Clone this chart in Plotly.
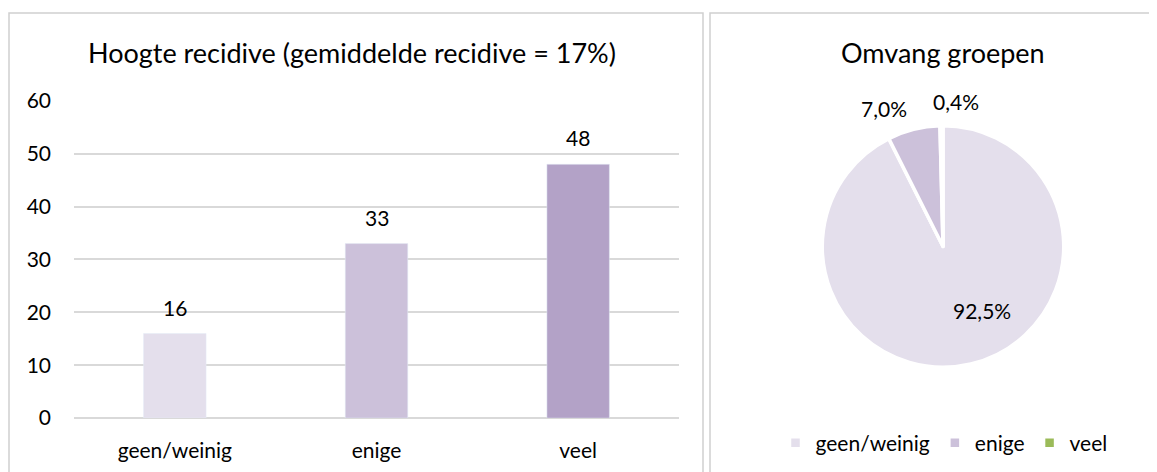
import plotly.graph_objects as go

# Data
categories = ["geen/weinig", "enige", "veel"]
recidive = [16, 33, 48]
omvang = [92.5, 7.0, 0.4]

bar_colors = ["#e4dfec", "#ccc1da", "#b3a2c7"]
pie_colors = ["#e4dfec", "#ccc1da", "#9bbb59"]

W, H = 1157, 472
font_family = "Lato, 'Open Sans', sans-serif"

# where the paper ends up in the screenshot (measured from earlier runs)
X0, Y0, PH = 8, 21, 448


def px(x):
    return (x - X0) / W


def py(y):
    return 1 - (y - Y0) / PH


fig = go.Figure()

fig.add_trace(go.Bar(
    x=categories, y=recidive,
    marker_color=bar_colors, width=0.31,
    showlegend=False, hoverinfo="x+y",
))

# data labels above the bars
for cat, val in zip(categories, recidive):
    fig.add_annotation(x=cat, y=val, text=str(val), showarrow=False,
                       yanchor="bottom", yshift=12,
                       font=dict(size=21, color="#000000"))

fig.add_trace(go.Pie(
    labels=categories, values=omvang,
    marker=dict(colors=pie_colors, line=dict(color="white", width=3.5)),
    sort=False, direction="clockwise", rotation=0,
    textinfo="none",
    domain=dict(x=[px(822), px(1064)], y=[py(367), py(125)]),
    hoverinfo="label+value",
))

# pie labels (placed like the Excel original)
pie_label_pos = [(982, 310), (884, 108), (956, 101)]
for val, (lx, ly) in zip(omvang, pie_label_pos):
    fig.add_annotation(x=px(lx), y=py(ly), xref="paper", yref="paper",
                       text=f"{val:.1f}%".replace(".", ","),
                       showarrow=False, xanchor="center", yanchor="middle",
                       font=dict(size=21, color="#000000"))

# panel borders
for x0, x1 in [(9, 703), (710, 1156)]:
    fig.add_shape(type="rect", xref="paper", yref="paper",
                  x0=px(x0), x1=px(x1), y0=py(490), y1=py(12),
                  line=dict(color="#d0d0d0", width=1.5), layer="below")

fig.add_annotation(text="Hoogte recidive (gemiddelde recidive = 17%)",
                   x=px(352), y=py(52), xref="paper", yref="paper",
                   xanchor="center", yanchor="middle",
                   showarrow=False, font=dict(size=27, color="#000000"))
fig.add_annotation(text="Omvang groepen",
                   x=px(943), y=py(52), xref="paper", yref="paper",
                   xanchor="center", yanchor="middle",
                   showarrow=False, font=dict(size=27, color="#000000"))

fig.update_layout(
    width=W, height=H,
    margin=dict(l=0, r=0, t=0, b=0),
    paper_bgcolor="white", plot_bgcolor="white",
    font=dict(family=font_family, size=21, color="#000000"),
    xaxis=dict(domain=[px(74), px(679)], showgrid=False, showline=False,
               ticks="", ticklabelstandoff=18, tickfont=dict(size=21),
               fixedrange=True),
    yaxis=dict(domain=[py(418), py(100)], range=[0, 60], dtick=10,
               showgrid=True, gridcolor="#d9d9d9", gridwidth=1.5,
               zeroline=True, zerolinecolor="#d9d9d9", zerolinewidth=1.5,
               showline=False, ticks="", ticklabelstandoff=22,
               tickfont=dict(size=21), fixedrange=True),
    showlegend=True,
    legend=dict(orientation="h", x=px(944), xanchor="center",
                y=py(443), yanchor="middle", font=dict(size=21),
                itemwidth=30, traceorder="normal"),
)

fig.write_html("out.html")
